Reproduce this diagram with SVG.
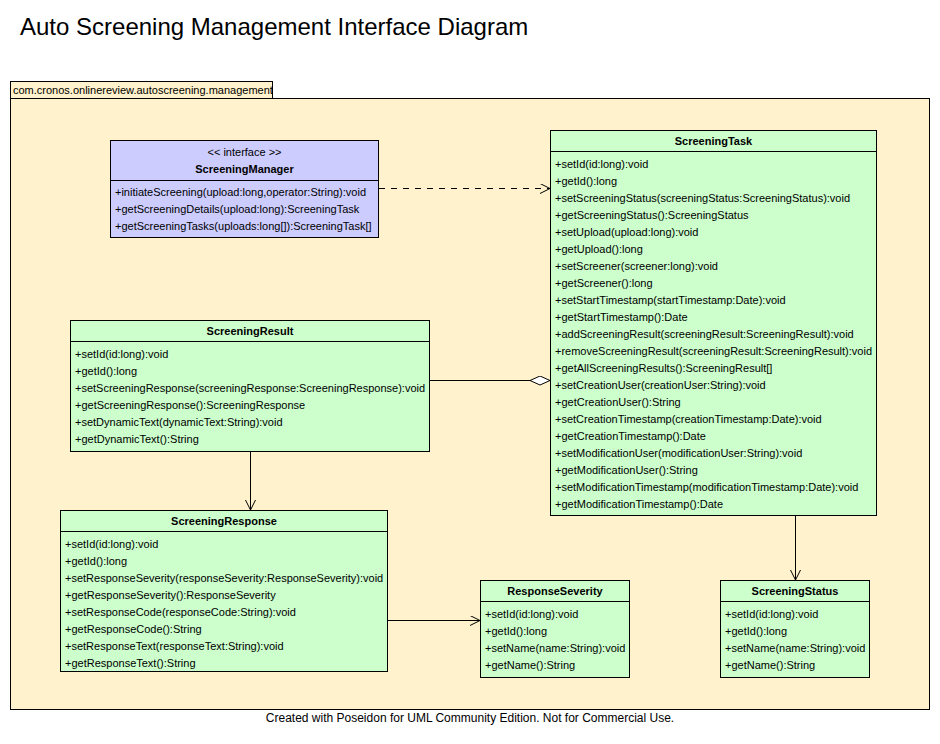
<svg xmlns="http://www.w3.org/2000/svg" width="940" height="744" viewBox="0 0 940 744">
<defs>
<style>
text{font-family:"Liberation Sans",Arial,sans-serif;font-size:11px;fill:#000}
.title{font-size:24px}
.foot{font-size:12px;text-anchor:middle}
.name{font-weight:bold;text-anchor:middle}
.st{text-anchor:middle}
.box{fill:#CCFFCC;stroke:#000;stroke-width:1}
.ibox{fill:#CCCCFF;stroke:#000;stroke-width:1}
.div{stroke:#000;stroke-width:1}
.pkg{fill:#FFF2CC;stroke:#000;stroke-width:1}
.con{stroke:#000;stroke-width:1;fill:none}
</style>
<marker id="open" markerWidth="12" markerHeight="12" refX="10" refY="5" orient="auto" markerUnits="userSpaceOnUse">
<path d="M0,0 L10,5 L0,10" fill="none" stroke="#000" stroke-width="1"/>
</marker>
<marker id="diamond" markerWidth="22" markerHeight="12" refX="20" refY="5" orient="auto" markerUnits="userSpaceOnUse">
<path d="M0,5 L10,0.5 L20,5 L10,9.5 Z" fill="#fff" stroke="#000" stroke-width="1"/>
</marker>
</defs>
<rect x="0" y="0" width="940" height="744" fill="#fff"/>
<text class="title" x="20" y="35">Auto Screening Management Interface Diagram</text>

<g id="package">
<rect class="pkg" x="10.5" y="81.5" width="262" height="17"/>
<rect class="pkg" x="10.5" y="98.5" width="919" height="611"/>
<text x="13" y="94">com.cronos.onlinereview.autoscreening.management</text>
</g>

<g id="connectors">
<line class="con" x1="379" y1="188.5" x2="550" y2="188.5" stroke-dasharray="6,6" marker-end="url(#open)"/>
<line class="con" x1="429" y1="380.5" x2="550" y2="380.5" marker-end="url(#diamond)"/>
<line class="con" x1="250.5" y1="451" x2="250.5" y2="510" marker-end="url(#open)"/>
<line class="con" x1="388" y1="620.5" x2="480" y2="620.5" marker-end="url(#open)"/>
<line class="con" x1="795.5" y1="516" x2="795.5" y2="580" marker-end="url(#open)"/>
</g>

<g id="ScreeningManager">
<rect class="ibox" x="110.5" y="140.5" width="268" height="97"/>
<line class="div" x1="110.5" y1="180.5" x2="378.5" y2="180.5"/>
<text class="st" x="244.5" y="155.5">&lt;&lt; interface &gt;&gt;</text>
<text class="name" x="244.5" y="173">ScreeningManager</text>
<text x="115" y="196">+initiateScreening(upload:long,operator:String):void</text>
<text x="115" y="213">+getScreeningDetails(upload:long):ScreeningTask</text>
<text x="115" y="230">+getScreeningTasks(uploads:long[]):ScreeningTask[]</text>
</g>

<g id="ScreeningTask">
<rect class="box" x="550.5" y="130.5" width="326" height="385"/>
<line class="div" x1="550.5" y1="151.5" x2="876.5" y2="151.5"/>
<text class="name" x="713.5" y="145">ScreeningTask</text>
<text x="555" y="168">+setId(id:long):void</text>
<text x="555" y="185">+getId():long</text>
<text x="555" y="202">+setScreeningStatus(screeningStatus:ScreeningStatus):void</text>
<text x="555" y="219">+getScreeningStatus():ScreeningStatus</text>
<text x="555" y="236">+setUpload(upload:long):void</text>
<text x="555" y="253">+getUpload():long</text>
<text x="555" y="270">+setScreener(screener:long):void</text>
<text x="555" y="287">+getScreener():long</text>
<text x="555" y="304">+setStartTimestamp(startTimestamp:Date):void</text>
<text x="555" y="321">+getStartTimestamp():Date</text>
<text x="555" y="338">+addScreeningResult(screeningResult:ScreeningResult):void</text>
<text x="555" y="355">+removeScreeningResult(screeningResult:ScreeningResult):void</text>
<text x="555" y="372">+getAllScreeningResults():ScreeningResult[]</text>
<text x="555" y="389">+setCreationUser(creationUser:String):void</text>
<text x="555" y="406">+getCreationUser():String</text>
<text x="555" y="423">+setCreationTimestamp(creationTimestamp:Date):void</text>
<text x="555" y="440">+getCreationTimestamp():Date</text>
<text x="555" y="457">+setModificationUser(modificationUser:String):void</text>
<text x="555" y="474">+getModificationUser():String</text>
<text x="555" y="491">+setModificationTimestamp(modificationTimestamp:Date):void</text>
<text x="555" y="508">+getModificationTimestamp():Date</text>
</g>

<g id="ScreeningResult">
<rect class="box" x="70.5" y="320.5" width="359" height="131"/>
<line class="div" x1="70.5" y1="341.5" x2="429.5" y2="341.5"/>
<text class="name" x="250" y="335">ScreeningResult</text>
<text x="75" y="358">+setId(id:long):void</text>
<text x="75" y="375">+getId():long</text>
<text x="75" y="392">+setScreeningResponse(screeningResponse:ScreeningResponse):void</text>
<text x="75" y="409">+getScreeningResponse():ScreeningResponse</text>
<text x="75" y="426">+setDynamicText(dynamicText:String):void</text>
<text x="75" y="443">+getDynamicText():String</text>
</g>

<g id="ScreeningResponse">
<rect class="box" x="60.5" y="510.5" width="327" height="161"/>
<line class="div" x1="60.5" y1="531.5" x2="387.5" y2="531.5"/>
<text class="name" x="224" y="525">ScreeningResponse</text>
<text x="65" y="548">+setId(id:long):void</text>
<text x="65" y="565">+getId():long</text>
<text x="65" y="582">+setResponseSeverity(responseSeverity:ResponseSeverity):void</text>
<text x="65" y="599">+getResponseSeverity():ResponseSeverity</text>
<text x="65" y="616">+setResponseCode(responseCode:String):void</text>
<text x="65" y="633">+getResponseCode():String</text>
<text x="65" y="650">+setResponseText(responseText:String):void</text>
<text x="65" y="667">+getResponseText():String</text>
</g>

<g id="ResponseSeverity">
<rect class="box" x="480.5" y="580.5" width="149" height="97"/>
<line class="div" x1="480.5" y1="601.5" x2="629.5" y2="601.5"/>
<text class="name" x="555" y="595">ResponseSeverity</text>
<text x="485" y="618">+setId(id:long):void</text>
<text x="485" y="635">+getId():long</text>
<text x="485" y="652">+setName(name:String):void</text>
<text x="485" y="669">+getName():String</text>
</g>

<g id="ScreeningStatus">
<rect class="box" x="720.5" y="580.5" width="149" height="97"/>
<line class="div" x1="720.5" y1="601.5" x2="869.5" y2="601.5"/>
<text class="name" x="795" y="595">ScreeningStatus</text>
<text x="725" y="618">+setId(id:long):void</text>
<text x="725" y="635">+getId():long</text>
<text x="725" y="652">+setName(name:String):void</text>
<text x="725" y="669">+getName():String</text>
</g>

<text class="foot" x="470" y="722">Created with Poseidon for UML Community Edition. Not for Commercial Use.</text>
</svg>
